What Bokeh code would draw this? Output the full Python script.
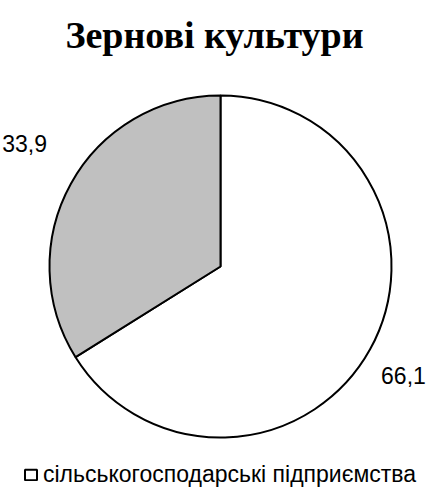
import math
from bokeh.plotting import figure
from bokeh.models import Range1d, Legend, LegendItem, ColumnDataSource
from bokeh.core.properties import value
from bokeh.embed import file_html
from bokeh.resources import INLINE

# ---- data ----
title_text = "Зернові культури"
legend_labels = ["сільськогосподарські підприємства"]
shares = [66.1, 33.9]
share_labels = ["66,1", "33,9"]
slice_colors = ["#FFFFFF", "#C0C0C0"]

W, H = 430, 488
cx, cy, r = 220, 222, 171

p = figure(width=W, height=H, output_backend="svg", toolbar_location=None,
           x_range=Range1d(0, W), y_range=Range1d(0, H),
           min_border=0, outline_line_color=None)
p.axis.visible = False
p.grid.visible = False

total = sum(shares)
starts, ends, mids = [], [], []
cum = 0.0
for v in shares:
    a0 = math.pi / 2 - 2 * math.pi * cum / total
    cum += v
    a1 = math.pi / 2 - 2 * math.pi * cum / total
    starts.append(a0)
    ends.append(a1)
    mids.append((a0 + a1) / 2)

src = ColumnDataSource(dict(x=[cx] * len(shares), y=[cy] * len(shares),
                            start=starts, end=ends, color=slice_colors))
wedges = p.wedge(x="x", y="y", radius=r, start_angle="start", end_angle="end",
                 direction="clock", fill_color="color", line_color="black",
                 line_width=2, source=src)

# label placement: radial from slice middle, nudged in pixels
lab_r = 1.31 * r
nudge_x = [-13, 0]
nudge_y = [0, 14]
lsrc = ColumnDataSource(dict(
    x=[cx + lab_r * math.cos(m) + dx for m, dx in zip(mids, nudge_x)],
    y=[cy + lab_r * math.sin(m) + dy for m, dy in zip(mids, nudge_y)],
    t=share_labels))
p.text(x="x", y="y", text="t", source=lsrc, text_align="center",
       text_baseline="middle", text_font=value("Liberation Sans"),
       text_font_size="23px", text_color="black")

p.text(x=[214], y=[H - 34], text=[title_text], text_align="center",
       text_baseline="alphabetic", text_font=value("Liberation Serif"),
       text_font_style="bold", text_font_size="38px", text_color="black")

legend = Legend(items=[LegendItem(label=legend_labels[0], renderers=[wedges], index=0)],
                location=(23, 0), orientation="horizontal",
                glyph_width=15, glyph_height=13, label_standoff=5,
                label_text_font="Liberation Sans", label_text_font_size="23px",
                label_text_color="black", padding=0, margin=0, spacing=0,
                border_line_color=None, background_fill_alpha=0)
p.add_layout(legend)

open("out.html", "w").write(file_html(p, INLINE))
